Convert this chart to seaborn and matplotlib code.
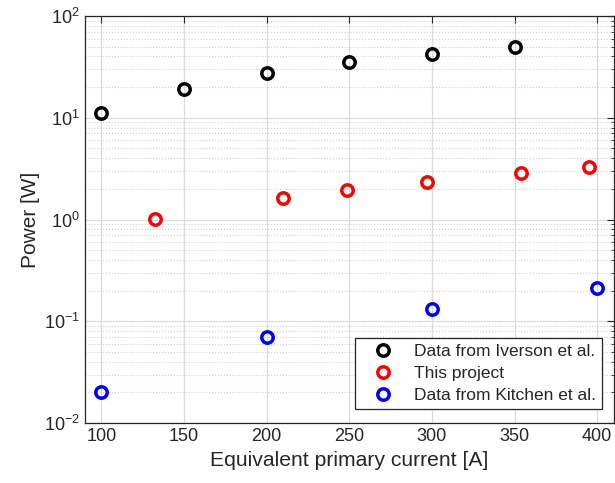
import matplotlib
matplotlib.use("Agg")
import matplotlib.pyplot as plt
import seaborn as sns
import numpy as np
from matplotlib.ticker import LogLocator, NullFormatter, FixedLocator

iverson_x = [100, 150, 200, 250, 300, 350]
iverson_y = [11.1, 19.2, 27.3, 35.3, 42.3, 49.6]
project_x = [132.7, 209.7, 248.8, 296.9, 353.7, 394.9]
project_y = [1.02, 1.63, 1.94, 2.35, 2.86, 3.30]
kitchen_x = [100, 200, 300, 400]
kitchen_y = [0.0202, 0.0705, 0.131, 0.212]
labels = ["Data from Iverson et al.", "This project", "Data from Kitchen et al."]
colors = ["black", "red", "blue"]
x_ticks = [100, 150, 200, 250, 300, 350, 400]

sns.set_style("white")
plt.rcParams['font.family'] = ['Liberation Sans', 'DejaVu Sans']

fig = plt.figure(figsize=(6.15, 4.83), dpi=100)
ax = fig.add_axes([0.138, 0.124, 0.860, 0.843])

for xs, ys, lab, c in zip([iverson_x, project_x, kitchen_x],
                          [iverson_y, project_y, kitchen_y], labels, colors):
    sns.lineplot(x=xs, y=ys, ax=ax, color=c, linestyle='', marker='o',
                 markersize=8.2, markerfacecolor='none', markeredgecolor=c,
                 markeredgewidth=2.5, label=lab)

ax.set_yscale('log')
ax.set_ylim(1e-2, 1e2)
ax.set_xlim(90, 410)
ax.xaxis.set_major_locator(FixedLocator(x_ticks))
ax.yaxis.set_major_locator(LogLocator(base=10, numticks=10))
ax.yaxis.set_minor_locator(LogLocator(base=10, subs=np.arange(2, 10), numticks=20))
ax.yaxis.set_minor_formatter(NullFormatter())

ax.grid(True, which='major', color='#dcdcdc', linewidth=0.9, linestyle='-')
ax.grid(True, which='minor', axis='y', color='#d0d0d0', linewidth=0.8, linestyle=':')
ax.set_axisbelow(True)

for s in ax.spines.values():
    s.set_visible(True)
    s.set_color('#262626')
    s.set_linewidth(0.9)

ax.tick_params(which='both', direction='in', top=True, right=True,
               colors='#262626', labelsize=13, labelcolor='#262626')
ax.tick_params(which='major', length=5)
ax.tick_params(which='minor', length=2.5)

ax.set_xlabel("Equivalent primary current [A]", fontsize=15.2, color='#262626', labelpad=4)
ax.set_ylabel("Power [W]", fontsize=15, color='#262626', labelpad=3)

leg = ax.legend(loc='lower right', fontsize=12.5, frameon=True, fancybox=False,
                edgecolor='#262626', framealpha=1, handlelength=2.6,
                handletextpad=0.45, borderpad=0.35, labelspacing=0.4,
                borderaxespad=0, bbox_to_anchor=(0.977, 0.034))
leg.get_frame().set_linewidth(0.9)

fig.savefig("out.png", dpi=100)
